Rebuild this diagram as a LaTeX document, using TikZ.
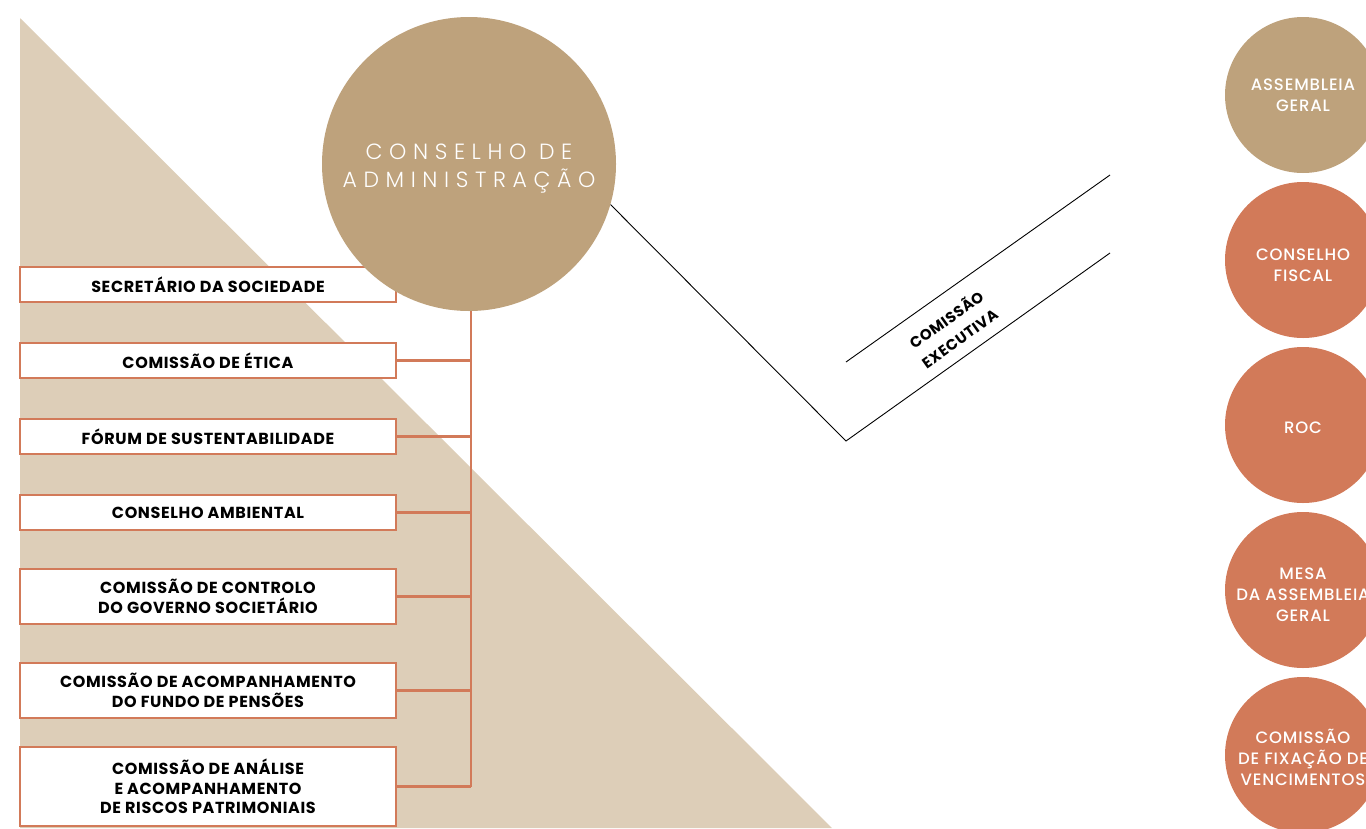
\documentclass[tikz,border=0pt]{standalone}
\usepackage{fontspec}
\setmainfont{Poppins}[LetterSpace=4]
\newfontfamily\thinfont{Poppins}[UprightFont={* Light}, LetterSpace=30]
\newfontfamily\medfont{Poppins}[UprightFont={* Medium}, LetterSpace=5]
\definecolor{trib}{HTML}{DDCEB8}
\definecolor{beige}{HTML}{BEA27C}
\definecolor{terra}{HTML}{D27A59}
\tikzset{
  box/.style={draw=terra, line width=2.6pt, fill=white, minimum width=376pt, align=center,
    font=\fontsize{16}{19.5}\selectfont\bfseries, inner sep=0pt},
  link/.style={draw=terra, line width=2.6pt},
  rcirc/.style={circle, minimum size=156pt, inner sep=0pt},
  rtext/.style={align=center, text=white, font=\medfont\fontsize{16.5}{21}\selectfont},
  exec/.style={draw=black, line width=0.9pt}
}
\begin{document}
\begin{tikzpicture}[x=1pt,y=-1pt]
\useasboundingbox (0,0) rectangle (1366,828);
\clip (0,0) rectangle (1366,828);
\fill[trib] (20,18) -- (20,828) -- (832,828) -- cycle;

\node[box, minimum height=35pt] (b1) at (208,284.5) {SECRETÁRIO DA SOCIEDADE};
\node[box, minimum height=35pt] (b2) at (208,360.5) {COMISSÃO DE ÉTICA};
\node[box, minimum height=35pt] (b3) at (208,436.5) {FÓRUM DE SUSTENTABILIDADE};
\node[box, minimum height=35pt] (b4) at (208,512.5) {CONSELHO AMBIENTAL};
\node[box, minimum height=55pt] (b5) at (208,596.5) {COMISSÃO DE CONTROLO\\DO GOVERNO SOCIETÁRIO};
\node[box, minimum height=55pt] (b6) at (208,690.5) {COMISSÃO DE ACOMPANHAMENTO\\DO FUNDO DE PENSÕES};
\node[box, minimum height=79pt] (b7) at (208,786.5) {COMISSÃO DE ANÁLISE\\E ACOMPANHAMENTO\\DE RISCOS PATRIMONIAIS};

\node[circle, fill=beige, minimum size=294pt, inner sep=0pt] (main) at (469,164) {};
\node[align=center, text=white, font=\thinfont\fontsize{22}{28}\selectfont] (maintxt)
  at ([yshift=-5pt]main.center) {CONSELHO DE\\ADMINISTRAÇÃO};

\coordinate (spine) at (471,786.5);
\draw[link] (main.south -| spine) -- (spine);
\foreach \b in {b2,b3,b4,b5,b6,b7}{
  \draw[link] (\b.east) -- (\b.east -| spine);
}

\coordinate (e1) at (846,441);
\coordinate (e2) at (1110,253);
\coordinate (e3) at (846,362);
\coordinate (e4) at (1110,175);
\draw[exec] (main.-16) -- (e1) -- (e2);
\draw[exec] (e3) -- (e4);
\node[rotate=35.5, align=center, font=\fontsize{15}{23}\selectfont\bfseries] (ce) at (952.5,328.5) {COMISSÃO\\EXECUTIVA};

\node[rcirc, fill=beige] (r1) at (1303,95) {};
\node[rcirc, fill=terra] (r2) at (1303,260) {};
\node[rcirc, fill=terra] (r3) at (1303,425) {};
\node[rcirc, fill=terra] (r4) at (1303,590) {};
\node[rcirc, fill=terra] (r5) at (1303,755) {};
\node[rtext] (t1) at ([yshift=0pt]r1.center) {ASSEMBLEIA\\GERAL};
\node[rtext] (t2) at ([yshift=-5pt]r2.center) {CONSELHO\\FISCAL};
\node[rtext] (t3) at ([yshift=-3pt]r3.center) {ROC};
\node[rtext] (t4) at ([yshift=-5pt]r4.center) {MESA\\DA ASSEMBLEIA\\GERAL};
\node[rtext] (t5) at ([yshift=-2pt]r5.center) {COMISSÃO\\DE FIXAÇÃO DE\\VENCIMENTOS};
\end{tikzpicture}
\end{document}
